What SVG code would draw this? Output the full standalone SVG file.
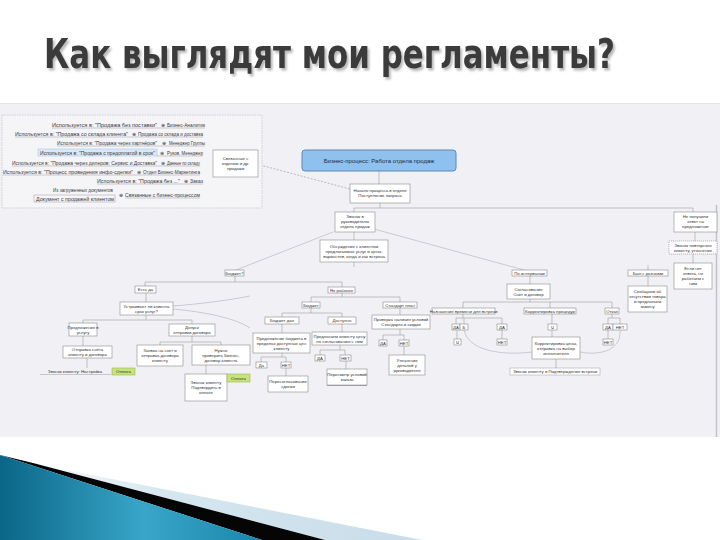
<svg xmlns="http://www.w3.org/2000/svg" width="720" height="540" viewBox="0 0 720 540">
<defs>
<style>
.t{font-family:"Liberation Sans",Arial,sans-serif;font-size:4.3px;fill:#333;text-anchor:middle}
.p{font-family:"Liberation Sans",Arial,sans-serif;font-size:4.6px;fill:#3a3a3a}
.n{fill:#fff;stroke:#8a8a8a;stroke-width:0.6}
.c{stroke:#9a9aa2;stroke-width:0.6;fill:none}
.f{stroke:#c9c9d2;stroke-width:1;fill:none}
.u{stroke:#9a9aa2;stroke-width:0.5}
.g{fill:#c7e37c;stroke:#9bbd45;stroke-width:0.6}
.ttl{font-family:"DejaVu Sans Condensed","DejaVu Sans","Liberation Sans",sans-serif;font-weight:bold;font-size:40px}
</style>
<filter id="sh" x="-5%" y="-30%" width="110%" height="160%">
<feDropShadow dx="2" dy="2.5" stdDeviation="0.8" flood-color="#000" flood-opacity="0.28"/>
</filter>
<linearGradient id="teal" x1="0" y1="0" x2="1" y2="0">
<stop offset="0" stop-color="#0a6687"/>
<stop offset="0.55" stop-color="#39a6c9"/>
<stop offset="1" stop-color="#1b86ab"/>
</linearGradient>
<linearGradient id="lb" x1="0" y1="0" x2="1" y2="0">
<stop offset="0" stop-color="#ffffff"/>
<stop offset="0.4" stop-color="#d5e6ef"/>
<stop offset="1" stop-color="#c8dde9"/>
</linearGradient>
</defs>
<rect width="720" height="540" fill="#fff"/>
<text class="ttl" x="44" y="68" fill="#3b3b3b" filter="url(#sh)" textLength="571" lengthAdjust="spacingAndGlyphs">Как выглядят мои регламенты?</text>
<rect x="0" y="103" width="720" height="334" fill="#f1f1f5"/>
<line x1="0" y1="103.5" x2="720" y2="103.5" stroke="#e2e2ea" stroke-width="1"/>
<line x1="716.5" y1="205" x2="716.5" y2="437" stroke="#c2c2ca" stroke-width="1.5"/>
<polygon points="0,457 422,540 325,540 33,463" fill="url(#lb)"/>
<polygon points="33,463 325,540 262,540 0,455" fill="#050505"/>
<polygon points="0,455 262,540 0,540" fill="url(#teal)"/>

<g id="connectors">
<path class="c" d="M379,171V184M380,203V208M354,208H693M354,208V212M693,208V212M695,232V241M693,254V263M354,232V240M354,262V267"/>
<path class="f" d="M333,232L236,270M374,229L524,270"/>
<path class="c" d="M235,276V282M145,282H342M145,282V286M342,282V287M146,293V302M146,315V320M83,320H192M83,320V323M192,320V324M83,336V346M87,358V368M192,336V342M160,342H221M160,342V345M221,342V345M206,365V374"/>
<path class="c" d="M342,293V297M311,297H400M311,297V302M400,297V302M311,308V313M282,313H342M282,313V317M342,313V317M282,324V333M282,353V357M261,357H286M261,357V362M286,357V362M286,368V376M342,324V332M340,345V350M320,350H345M320,350V355M345,350V355M346,361V369M400,308V315M400,329V335M383,335H404M383,335V340M404,335V340M404,346V355"/>
<path class="c" d="M530,276V284M530,299V302M463,302H612M463,302V308M550,302V308M612,302V308M463,314V318M456,318H502M456,318V324M464,318V324M502,318V324M457,330V339M502,330V339M552,314V324M552,330V337M556,359V368M612,314V318M608,318H620M608,318V324M620,318V324M608,330V339M648,276V286M648,265V270"/>
<path class="f" d="M464,330C468,350 500,356 532,352M620,330C622,350 600,356 580,352M173,306C200,304 230,300 250,296M173,309C205,312 235,318 250,328"/>
<path d="M260,165L350,189" stroke="#a8a8b0" stroke-width="0.8" stroke-dasharray="2,1.5" fill="none"/>
<path class="c" d="M207,125V195M205,125H207M203,134H207M205,143H207M203,153H207M200,163H207M200,172H207M203,181H207M200,195H207M207,163H213"/>
</g>

<g id="panel">
<rect x="2" y="115" width="260" height="93" fill="#f5f5f8" stroke="#b8b8c0" stroke-width="0.6" stroke-dasharray="1.5,1"/>
<rect x="38" y="149" width="119" height="7" fill="#dbe9f7" stroke="#9fc0e0" stroke-width="0.5"/>
<g class="p">
<text x="52" y="126.5" textLength="105" lengthAdjust="spacingAndGlyphs">Используется в: "Продажа без поставки"</text>
<text x="161" y="126.5">⊕</text><text x="167" y="126.5" textLength="38" lengthAdjust="spacingAndGlyphs">Бизнес-Аналитик</text>
<text x="15" y="135.5" textLength="113" lengthAdjust="spacingAndGlyphs">Используется в: "Продажа со склада клиента"</text>
<text x="132" y="135.5">⊕</text><text x="138" y="135.5" textLength="65" lengthAdjust="spacingAndGlyphs">Продажа со склада и доставка</text>
<text x="57" y="144.5" textLength="100" lengthAdjust="spacingAndGlyphs">Используется в: "Продажа через партнёров"</text>
<text x="162" y="144.5">⊕</text><text x="169" y="144.5" textLength="36" lengthAdjust="spacingAndGlyphs">Менеджер Группы</text>
<text x="40" y="154.5" textLength="115" lengthAdjust="spacingAndGlyphs">Используется в: "Продажа с предоплатой в срок"</text>
<text x="160" y="154.5">⊕</text><text x="167" y="154.5" textLength="36" lengthAdjust="spacingAndGlyphs">Руков. Менеджер</text>
<text x="12" y="164.5" textLength="145" lengthAdjust="spacingAndGlyphs">Используется в: "Продажа через дилеров: Сервис и Доставка"</text>
<text x="161" y="164.5">⊕</text><text x="167" y="164.5" textLength="33" lengthAdjust="spacingAndGlyphs">Данные по складу</text>
<text x="3" y="173.5" textLength="130" lengthAdjust="spacingAndGlyphs">Используется в: "Процесс проведения инфо-сделки"</text>
<text x="137" y="173.5">⊕</text><text x="143" y="173.5" textLength="57" lengthAdjust="spacingAndGlyphs">Отдел Бизнес-Маркетинга</text>
<text x="97" y="182.5" textLength="83" lengthAdjust="spacingAndGlyphs">Используется в: "Продажа без ..."</text>
<text x="184" y="182.5">⊕</text><text x="190" y="182.5" textLength="13" lengthAdjust="spacingAndGlyphs">Заказ</text>
<text x="53" y="191.5" textLength="60" lengthAdjust="spacingAndGlyphs">Из загруженных документов</text>
<text x="36" y="200.5" textLength="78" lengthAdjust="spacingAndGlyphs">Документ с продажей клиентом</text>
<text x="119" y="196.5">⊕</text><text x="125" y="196.5" textLength="75" lengthAdjust="spacingAndGlyphs">Связанные с бизнес-процессом</text>
</g>
<path class="u" d="M52,128H205M15,137H203M57,146H205M157,156H203M12,166H200M3,175H200M97,184H203M125,198H200"/>
<rect x="34" y="195" width="81" height="7" fill="none" stroke="#9a9aa2" stroke-width="0.5"/>
</g>

<g id="n-related"><rect class="n" x="213" y="150" width="45" height="27"/><text class="t" x="235.5" y="160">Связанные с</text><text class="t" x="235.5" y="165">отделом и др.</text><text class="t" x="235.5" y="170">продажи</text></g>
<g id="n-main"><rect x="302" y="150" width="154" height="21" rx="3" fill="#8fc1ef" stroke="#5b88b8" stroke-width="1"/><text class="t" x="379" y="162.5" style="font-size:6px;fill:#1e2a3a">Бизнес-процесс: Работа отдела продаж</text></g>
<g id="n-start"><rect class="n" x="350" y="184" width="60" height="19"/><text class="t" x="380" y="191.5">Начало процесса в отделе</text><text class="t" x="380" y="196.5">Поступление запроса</text></g>
<g id="n-call"><rect class="n" x="335" y="212" width="40" height="20"/><text class="t" x="355" y="218">Звонок в</text><text class="t" x="355" y="223">руководителю</text><text class="t" x="355" y="228">отдела продаж</text></g>
<g id="n-disc"><rect class="n" x="320" y="240" width="68" height="22"/><text class="t" x="354" y="247.5">Обсуждение с клиентом</text><text class="t" x="354" y="252.5">предлагаемых услуг и цены,</text><text class="t" x="354" y="257.5">вариантов, когда и как встреча</text></g>
<g id="n-bud"><rect class="n" x="225" y="270" width="19" height="6"/><text class="t" x="234.5" y="274.5">Бюджет?</text></g>
<g id="n-int"><rect class="n" x="512" y="270" width="35" height="6"/><text class="t" x="529.5" y="274.5">По интервалам</text></g>
<g id="n-bsr"><rect class="n" x="628" y="270" width="40" height="6"/><text class="t" x="648" y="274.5">Был с разными</text></g>
<g id="n-bsr2"><rect class="n" x="628" y="286" width="39" height="26"/><text class="t" x="647.5" y="293">Сообщаем об</text><text class="t" x="647.5" y="298">отсутствии товара</text><text class="t" x="647.5" y="303">и предлагаем</text><text class="t" x="647.5" y="308">замену</text></g>
<g id="n-r1"><rect class="n" x="674" y="212" width="43" height="20"/><text class="t" x="695.5" y="218">Не получили</text><text class="t" x="695.5" y="223">ответ на</text><text class="t" x="695.5" y="228">предложение</text></g>
<g id="n-r2"><rect class="n" x="669" y="241" width="48" height="13" stroke-dasharray="1.2,0.8"/><text class="t" x="693" y="246.5">Звонок повторного</text><text class="t" x="693" y="251.5">клиенту, уточнение</text></g>
<g id="n-r3"><rect class="n" x="674" y="263" width="38" height="26"/><text class="t" x="693" y="270">Если нет</text><text class="t" x="693" y="275">ответа, не</text><text class="t" x="693" y="280">работаем с</text><text class="t" x="693" y="285">ним</text></g>
<g id="n-int2"><rect class="n" x="507" y="284" width="43" height="15"/><text class="t" x="528.5" y="290.5">Согласование</text><text class="t" x="528.5" y="295.5">Счёт и договор</text></g>
<g id="n-nazn"><rect class="n" x="432" y="308" width="63" height="6"/><text class="t" x="463.5" y="312.5">Назначение времени для встречи</text></g>
<g id="n-korr"><rect class="n" x="524" y="308" width="52" height="6"/><text class="t" x="550" y="312.5">Корректировка процедур</text></g>
<g id="n-otk"><rect class="n" x="605" y="308" width="14" height="6"/><text class="t" x="612" y="312.5">Отказ</text></g>
<g id="n-da1"><rect class="n" x="452" y="324" width="8" height="6"/><text class="t" x="456" y="328.5">ДА</text></g>
<g id="n-b1"><rect class="n" x="460" y="324" width="8" height="6"/><text class="t" x="464" y="328.5">Б</text></g>
<g id="n-da2"><rect class="n" x="497" y="324" width="10" height="6"/><text class="t" x="502" y="328.5">ДА</text></g>
<g id="n-c1"><rect class="n" x="454" y="339" width="7" height="6"/><text class="t" x="457.5" y="343.5">Ч</text></g>
<g id="n-net2"><rect class="n" x="497" y="339" width="10" height="6"/><text class="t" x="502" y="343.5">НЕТ</text></g>
<g id="n-c2"><rect class="n" x="548" y="324" width="9" height="6"/><text class="t" x="552.5" y="328.5">Ч</text></g>
<g id="n-big"><rect class="n" x="532" y="337" width="48" height="22"/><text class="t" x="556" y="344.5">Корректировка цены,</text><text class="t" x="556" y="349.5">отправка на выбор</text><text class="t" x="556" y="354.5">исполнителя</text></g>
<g id="n-txtr"><rect x="510" y="368" width="90" height="7" fill="#fff" stroke="#9a9aa2" stroke-width="0.5"/><text class="t" x="555" y="373">Звонок клиенту и Подтверждение встречи</text></g>
<g id="n-da3"><rect class="n" x="603" y="324" width="10" height="6"/><text class="t" x="608" y="328.5">ДА</text></g>
<g id="n-net3"><rect class="n" x="613" y="324" width="14" height="6"/><text class="t" x="620" y="328.5">НЕТ</text></g>
<g id="n-net4"><rect class="n" x="603" y="339" width="10" height="6"/><text class="t" x="608" y="343.5">НЕТ</text></g>

<g id="n-est"><rect class="n" x="135" y="286" width="21" height="7"/><text class="t" x="145.5" y="291">Есть да</text></g>
<g id="n-est2"><rect class="n" x="120" y="302" width="53" height="13"/><text class="t" x="146.5" y="307.5">Устраивает ли клиента</text><text class="t" x="146.5" y="312.5">срок услуг?</text></g>
<g id="n-pred"><rect class="n" x="69" y="323" width="28" height="13"/><text class="t" x="83" y="328.5">Предложение в</text><text class="t" x="83" y="333.5">услугу</text></g>
<g id="n-dop"><rect class="n" x="169" y="324" width="46" height="12"/><text class="t" x="192" y="329">Допуск</text><text class="t" x="192" y="334">отправки договора</text></g>
<g id="n-otpr"><rect class="n" x="63" y="346" width="49" height="12"/><text class="t" x="87.5" y="351">Отправка счёта</text><text class="t" x="87.5" y="356">клиенту и договора</text></g>
<g id="n-txtl"><text class="t" x="75" y="373">Звонок клиенту: Настройка</text><line class="u" x1="40" y1="374.5" x2="111" y2="374.5"/></g>
<g id="n-ok1"><rect class="g" x="112" y="368" width="23" height="7"/><text class="t" x="123.5" y="373">Оплата</text></g>
<g id="n-a"><rect class="n" x="137" y="345" width="46" height="21"/><text class="t" x="160" y="352">Заявка на счёт и</text><text class="t" x="160" y="357">отправка договора</text><text class="t" x="160" y="362">клиенту</text></g>
<g id="n-b"><rect class="n" x="192" y="345" width="58" height="20"/><text class="t" x="221" y="351.5">Нужно</text><text class="t" x="221" y="356.5">проверить Бизнес-</text><text class="t" x="221" y="361.5">договор клиента</text></g>
<g id="n-c"><rect class="n" x="185" y="374" width="42" height="27"/><text class="t" x="206" y="384">Звонок клиенту</text><text class="t" x="206" y="389">Подтвердить в</text><text class="t" x="206" y="394">оплате</text></g>
<g id="n-ok2"><rect class="g" x="227" y="374" width="23" height="8"/><text class="t" x="238.5" y="379.5">Оплата</text></g>

<g id="n-neg"><rect class="n" x="328" y="287" width="27" height="6"/><text class="t" x="341.5" y="291.5">Не рабочее</text></g>
<g id="n-bd"><rect class="n" x="302" y="302" width="18" height="6"/><text class="t" x="311" y="306.5">Бюджет</text></g>
<g id="n-std"><rect class="n" x="383" y="302" width="34" height="6"/><text class="t" x="400" y="306.5">Стандарт план</text></g>
<g id="n-bd1"><rect class="n" x="265" y="317" width="34" height="7"/><text class="t" x="282" y="322">Бюджет дал</text></g>
<g id="n-bd2"><rect class="n" x="328" y="317" width="28" height="7"/><text class="t" x="342" y="322">Доступно</text></g>
<g id="n-bd1c"><rect class="n" x="253" y="333" width="57" height="20"/><text class="t" x="281.5" y="339.5">Предложение бюджета в</text><text class="t" x="281.5" y="344.5">пределах доступных цен</text><text class="t" x="281.5" y="349.5">клиенту</text></g>
<g id="n-da4"><rect class="n" x="256" y="362" width="11" height="6"/><text class="t" x="261.5" y="366.5">Да</text></g>
<g id="n-net5"><rect class="n" x="281" y="362" width="10" height="6"/><text class="t" x="286" y="366.5">НЕТ</text></g>
<g id="n-p1"><rect class="n" x="268" y="376" width="40" height="16"/><text class="t" x="288" y="383">Пересогласование</text><text class="t" x="288" y="388">сделки</text></g>
<g id="n-bd2c"><rect class="n" x="312" y="332" width="55" height="13"/><text class="t" x="339.5" y="337.5">Предлагаем клиенту цену</text><text class="t" x="339.5" y="342.5">по согласованию с ним</text></g>
<g id="n-da5"><rect class="n" x="315" y="355" width="10" height="6"/><text class="t" x="320" y="359.5">ДА</text></g>
<g id="n-net6"><rect class="n" x="340" y="355" width="11" height="6"/><text class="t" x="345.5" y="359.5">НЕТ</text></g>
<g id="n-p2"><rect class="n" x="327" y="369" width="40" height="16"/><line x1="327" y1="385.5" x2="367" y2="385.5" stroke="#9a9aa2" stroke-width="1"/><text class="t" x="347" y="376">Пересмотр условий</text><text class="t" x="347" y="381">заказа</text></g>
<g id="n-stdc"><rect class="n" x="372" y="315" width="58" height="14"/><text class="t" x="401" y="321">Проверка наличия условий</text><text class="t" x="401" y="326">Стандарта и скидки</text></g>
<g id="n-da6"><rect class="n" x="379" y="340" width="8" height="6"/><text class="t" x="383" y="344.5">ДА</text></g>
<g id="n-net7"><rect class="n" x="399" y="340" width="10" height="6"/><text class="t" x="404" y="344.5">НЕТ</text></g>
<g id="n-p3"><rect class="n" x="389" y="355" width="36" height="20"/><text class="t" x="407" y="361.5">Уточнение</text><text class="t" x="407" y="366.5">деталей у</text><text class="t" x="407" y="371.5">руководителя</text></g>
</svg>
